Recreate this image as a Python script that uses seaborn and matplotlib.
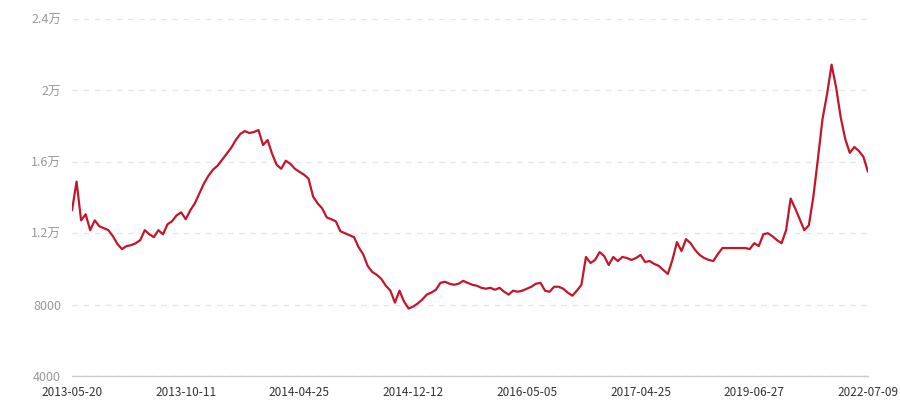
import matplotlib
matplotlib.use("Agg")
import matplotlib.pyplot as plt
import seaborn as sns
import pandas as pd

# values, evenly spaced categories
values = [
    13280, 14890, 12720, 13060, 12170, 12720, 12390, 12280, 12170, 11830,
    11390, 11110, 11280, 11330, 11440, 11610, 12170, 11940, 11780, 12170,
    11940, 12500, 12670, 13000, 13170, 12780, 13280, 13670, 14220, 14780,
    15220, 15560, 15780, 16110, 16440, 16780, 17220, 17560, 17720, 17610,
    17670, 17780, 16940, 17220, 16440, 15830, 15610, 16060, 15890, 15610,
    15440, 15280, 15060, 14060, 13670, 13390, 12890, 12780, 12670, 12110,
    12000, 11890, 11780, 11220, 10830, 10170, 9830, 9670, 9440, 9060,
    8780, 8110, 8780, 8170, 7780, 7890, 8060, 8280, 8560, 8670,
    8830, 9220, 9280, 9170, 9110, 9170, 9330, 9220, 9110, 9060,
    8940, 8890, 8940, 8830, 8940, 8720, 8560, 8780, 8720, 8780,
    8890, 9000, 9170, 9220, 8780, 8720, 9000, 9000, 8890, 8670,
    8500, 8780, 9110, 10670, 10330, 10500, 10940, 10720, 10220, 10670,
    10440, 10670, 10610, 10500, 10610, 10780, 10390, 10440, 10280, 10170,
    9940, 9720, 10500, 11500, 11000, 11670, 11440, 11060, 10780, 10610,
    10500, 10440, 10830, 11170, 11170, 11170, 11170, 11170, 11170, 11110,
    11440, 11280, 11940, 12000, 11830, 11610, 11440, 12170, 13940, 13390,
    12780, 12170, 12440, 14060, 16170, 18390, 19780, 21440, 20170, 18500,
    17280, 16500, 16830, 16610, 16280, 15440,
]
tick_labels = ["2013-05-20", "2013-10-11", "2014-04-25", "2014-12-12",
               "2016-05-05", "2017-04-25", "2019-06-27", "2022-07-09"]
y_ticks = [4000, 8000, 12000, 16000, 20000, 24000]
y_labels = ["4000", "8000", "1.2万", "1.6万", "2万", "2.4万"]

df = pd.DataFrame({"idx": range(len(values)), "value": values})

sns.set_style("white")
plt.rcParams["font.family"] = ["Noto Sans CJK SC", "DejaVu Sans"]

fig = plt.figure(figsize=(9, 4), dpi=100)
ax = fig.add_axes([0.08, 0.06, 0.8844, 0.8925])

sns.lineplot(data=df, x="idx", y="value", color="#c4162a", linewidth=1.6, ax=ax)

n = len(values) - 1
step = n // (len(tick_labels) - 1)
ax.set_xlim(0, n)
ax.set_ylim(4000, 24000)
ax.set_xticks(range(0, n + 1, step))
ax.set_xticklabels(tick_labels)
ax.set_yticks(y_ticks)
ax.set_yticklabels(y_labels)
ax.set_xlabel("")
ax.set_ylabel("")

ax.yaxis.grid(True, linestyle=(0, (4, 4)), color="#e6e6e6", linewidth=1)
ax.xaxis.grid(False)
for side in ["top", "right", "left"]:
    ax.spines[side].set_visible(False)
ax.spines["bottom"].set_color("#cccccc")
ax.spines["bottom"].set_linewidth(1)

ax.tick_params(axis="x", length=5, color="#cccccc", labelsize=8.5, labelcolor="#333333", pad=2)
ax.tick_params(axis="y", length=0, labelsize=9, labelcolor="#999999", pad=8)

plt.savefig("out.png", dpi=100)
